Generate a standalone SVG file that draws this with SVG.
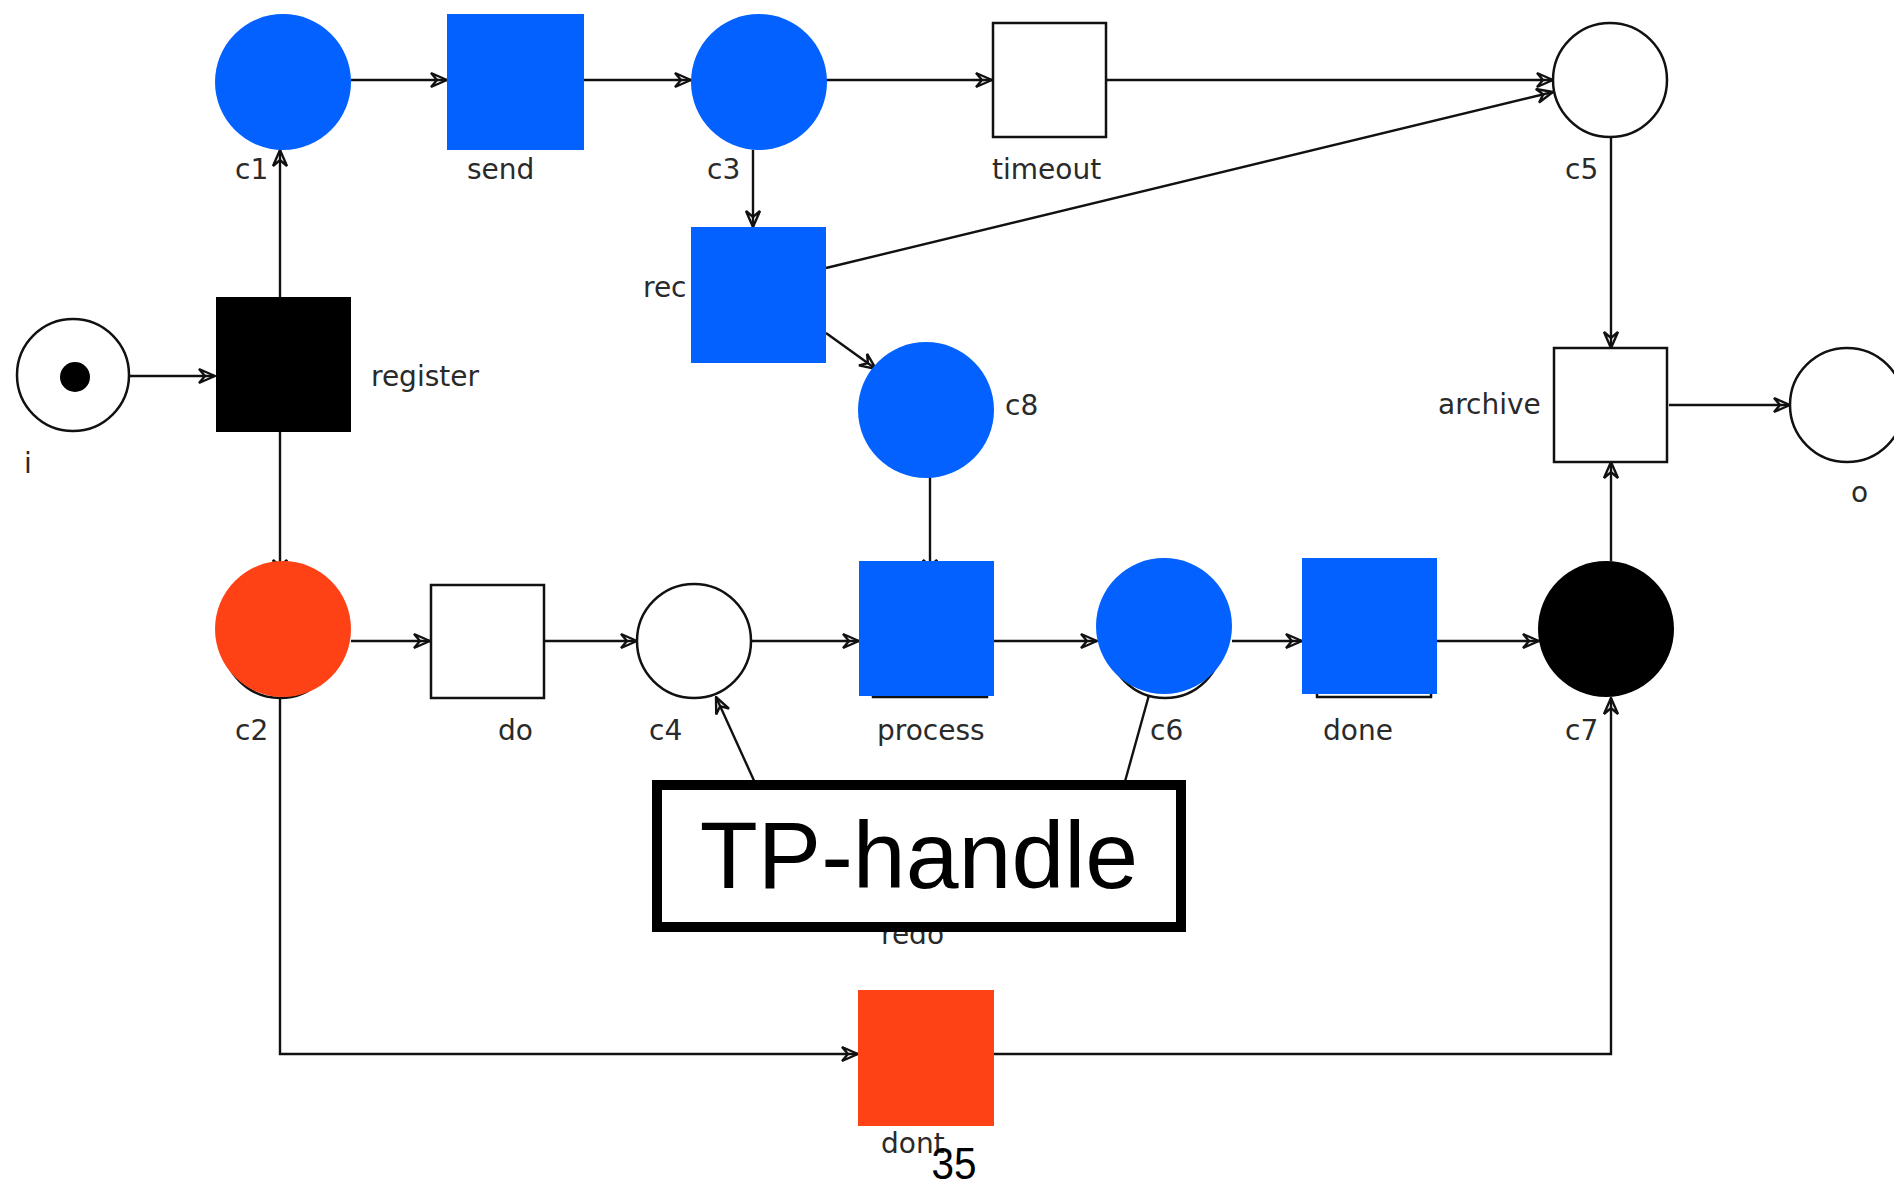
<svg xmlns="http://www.w3.org/2000/svg" width="1894" height="1185" viewBox="0 0 1894 1185">
<style>
.lbl{font-family:"DejaVu Sans",sans-serif;font-size:28px;fill:#2a2a2a}
.edge{fill:none;stroke:#111;stroke-width:2.4}
.blue{fill:#0261FF}
.red{fill:#FF4215}
.outline{fill:#fff;stroke:#111;stroke-width:2.5}
.solid{fill:#000}
</style>
<defs>
<marker id="arr" viewBox="0 0 20 20" refX="19" refY="10" markerWidth="20" markerHeight="20" markerUnits="userSpaceOnUse" orient="auto">
<path d="M3,3 L19,10 L3,17 L9,10 Z" fill="none" stroke="#111" stroke-width="2.4"/>
</marker>
</defs>
<rect width="1894" height="1185" fill="#fff"/>
<g id="connectors">
<path class="edge" d="M130,376 H215" marker-end="url(#arr)"/>
<path class="edge" d="M280,297 V150" marker-end="url(#arr)"/>
<path class="edge" d="M351,80 H447" marker-end="url(#arr)"/>
<path class="edge" d="M584,80 H691" marker-end="url(#arr)"/>
<path class="edge" d="M826,80 H992" marker-end="url(#arr)"/>
<path class="edge" d="M1106,80 H1553" marker-end="url(#arr)"/>
<path class="edge" d="M753,150 V227" marker-end="url(#arr)"/>
<path class="edge" d="M826,268 L1553,92" marker-end="url(#arr)"/>
<path class="edge" d="M826,333 L876,369" marker-end="url(#arr)"/>
<path class="edge" d="M1611,137 V348" marker-end="url(#arr)"/>
<path class="edge" d="M1669,405 H1790" marker-end="url(#arr)"/>
<path class="edge" d="M280,432 V576" marker-end="url(#arr)"/>
<path class="edge" d="M351,641 H430" marker-end="url(#arr)"/>
<path class="edge" d="M544,641 H637" marker-end="url(#arr)"/>
<path class="edge" d="M751,641 H859" marker-end="url(#arr)"/>
<path class="edge" d="M930,477 V576" marker-end="url(#arr)"/>
<path class="edge" d="M994,641 H1097" marker-end="url(#arr)"/>
<path class="edge" d="M1232,641 H1302" marker-end="url(#arr)"/>
<path class="edge" d="M1437,641 H1539" marker-end="url(#arr)"/>
<path class="edge" d="M1611,561 V462" marker-end="url(#arr)"/>
<path class="edge" d="M280,697 V1054 H858" marker-end="url(#arr)"/>
<path class="edge" d="M994,1054 H1611 V698" marker-end="url(#arr)"/>
<path class="edge" d="M756,785 L716,697" marker-end="url(#arr)"/>
<path class="edge" d="M1149,695 L1124,785"/>
</g>
<g id="i"><circle class="outline" cx="73" cy="375" r="56"/><circle cx="75" cy="377" r="15" fill="#000"/><text class="lbl" x="24" y="473">i</text></g>
<g id="register"><rect class="solid" x="216" y="297" width="135" height="135"/><text class="lbl" x="371" y="386">register</text></g>
<g id="c1"><circle class="blue" cx="283" cy="82" r="68"/><text class="lbl" x="235" y="179">c1</text></g>
<g id="send"><rect class="blue" x="447" y="14" width="137" height="136"/><text class="lbl" x="467" y="179">send</text></g>
<g id="c3"><circle class="blue" cx="759" cy="82" r="68"/><text class="lbl" x="707" y="179">c3</text></g>
<g id="timeout"><rect class="outline" x="993" y="23" width="113" height="114"/><text class="lbl" x="992" y="179">timeout</text></g>
<g id="c5"><circle class="outline" cx="1610" cy="80" r="57"/><text class="lbl" x="1565" y="179">c5</text></g>
<g id="rec"><rect class="blue" x="691" y="227" width="135" height="136"/><text class="lbl" x="643" y="297">rec</text></g>
<g id="c8"><circle class="blue" cx="926" cy="410" r="68"/><text class="lbl" x="1005" y="415">c8</text></g>
<g id="archive"><rect class="outline" x="1554" y="348" width="113" height="114"/><text class="lbl" x="1438" y="414">archive</text></g>
<g id="o"><circle class="outline" cx="1847" cy="405" r="57"/><text class="lbl" x="1851" y="502">o</text></g>
<g id="c2"><circle class="outline" cx="280" cy="641" r="57"/><circle class="red" cx="283" cy="629" r="68"/><text class="lbl" x="235" y="740">c2</text></g>
<g id="do"><rect class="outline" x="431" y="585" width="113" height="113"/><text class="lbl" x="498" y="740">do</text></g>
<g id="c4"><circle class="outline" cx="694" cy="641" r="57"/><text class="lbl" x="649" y="740">c4</text></g>
<g id="process"><rect class="outline" x="873" y="584" width="114" height="113"/><rect class="blue" x="859" y="561" width="135" height="135"/><text class="lbl" x="877" y="740">process</text></g>
<g id="c6"><circle class="outline" cx="1165" cy="641" r="57"/><circle class="blue" cx="1164" cy="626" r="68"/><text class="lbl" x="1150" y="740">c6</text></g>
<g id="done"><rect class="outline" x="1317" y="584" width="114" height="113"/><rect class="blue" x="1302" y="558" width="135" height="136"/><text class="lbl" x="1323" y="740">done</text></g>
<g id="c7"><circle class="solid" cx="1606" cy="629" r="68"/><text class="lbl" x="1565" y="740">c7</text></g>
<g id="redo"><text class="lbl" x="881" y="944">redo</text></g>
<g id="dont"><rect class="red" x="858" y="990" width="136" height="136"/><text class="lbl" x="881" y="1153">dont</text></g>
<g id="tp-handle"><rect x="657" y="785" width="524" height="142" fill="#fff" stroke="#000" stroke-width="10"/><text x="919" y="888" text-anchor="middle" font-family="Liberation Sans, Arial, sans-serif" font-size="95" fill="#000">TP-handle</text></g>
<g id="page"><text x="954" y="1179" text-anchor="middle" font-family="Liberation Sans, Arial, sans-serif" font-size="44" fill="#000" textLength="45" lengthAdjust="spacingAndGlyphs">35</text></g>
</svg>
